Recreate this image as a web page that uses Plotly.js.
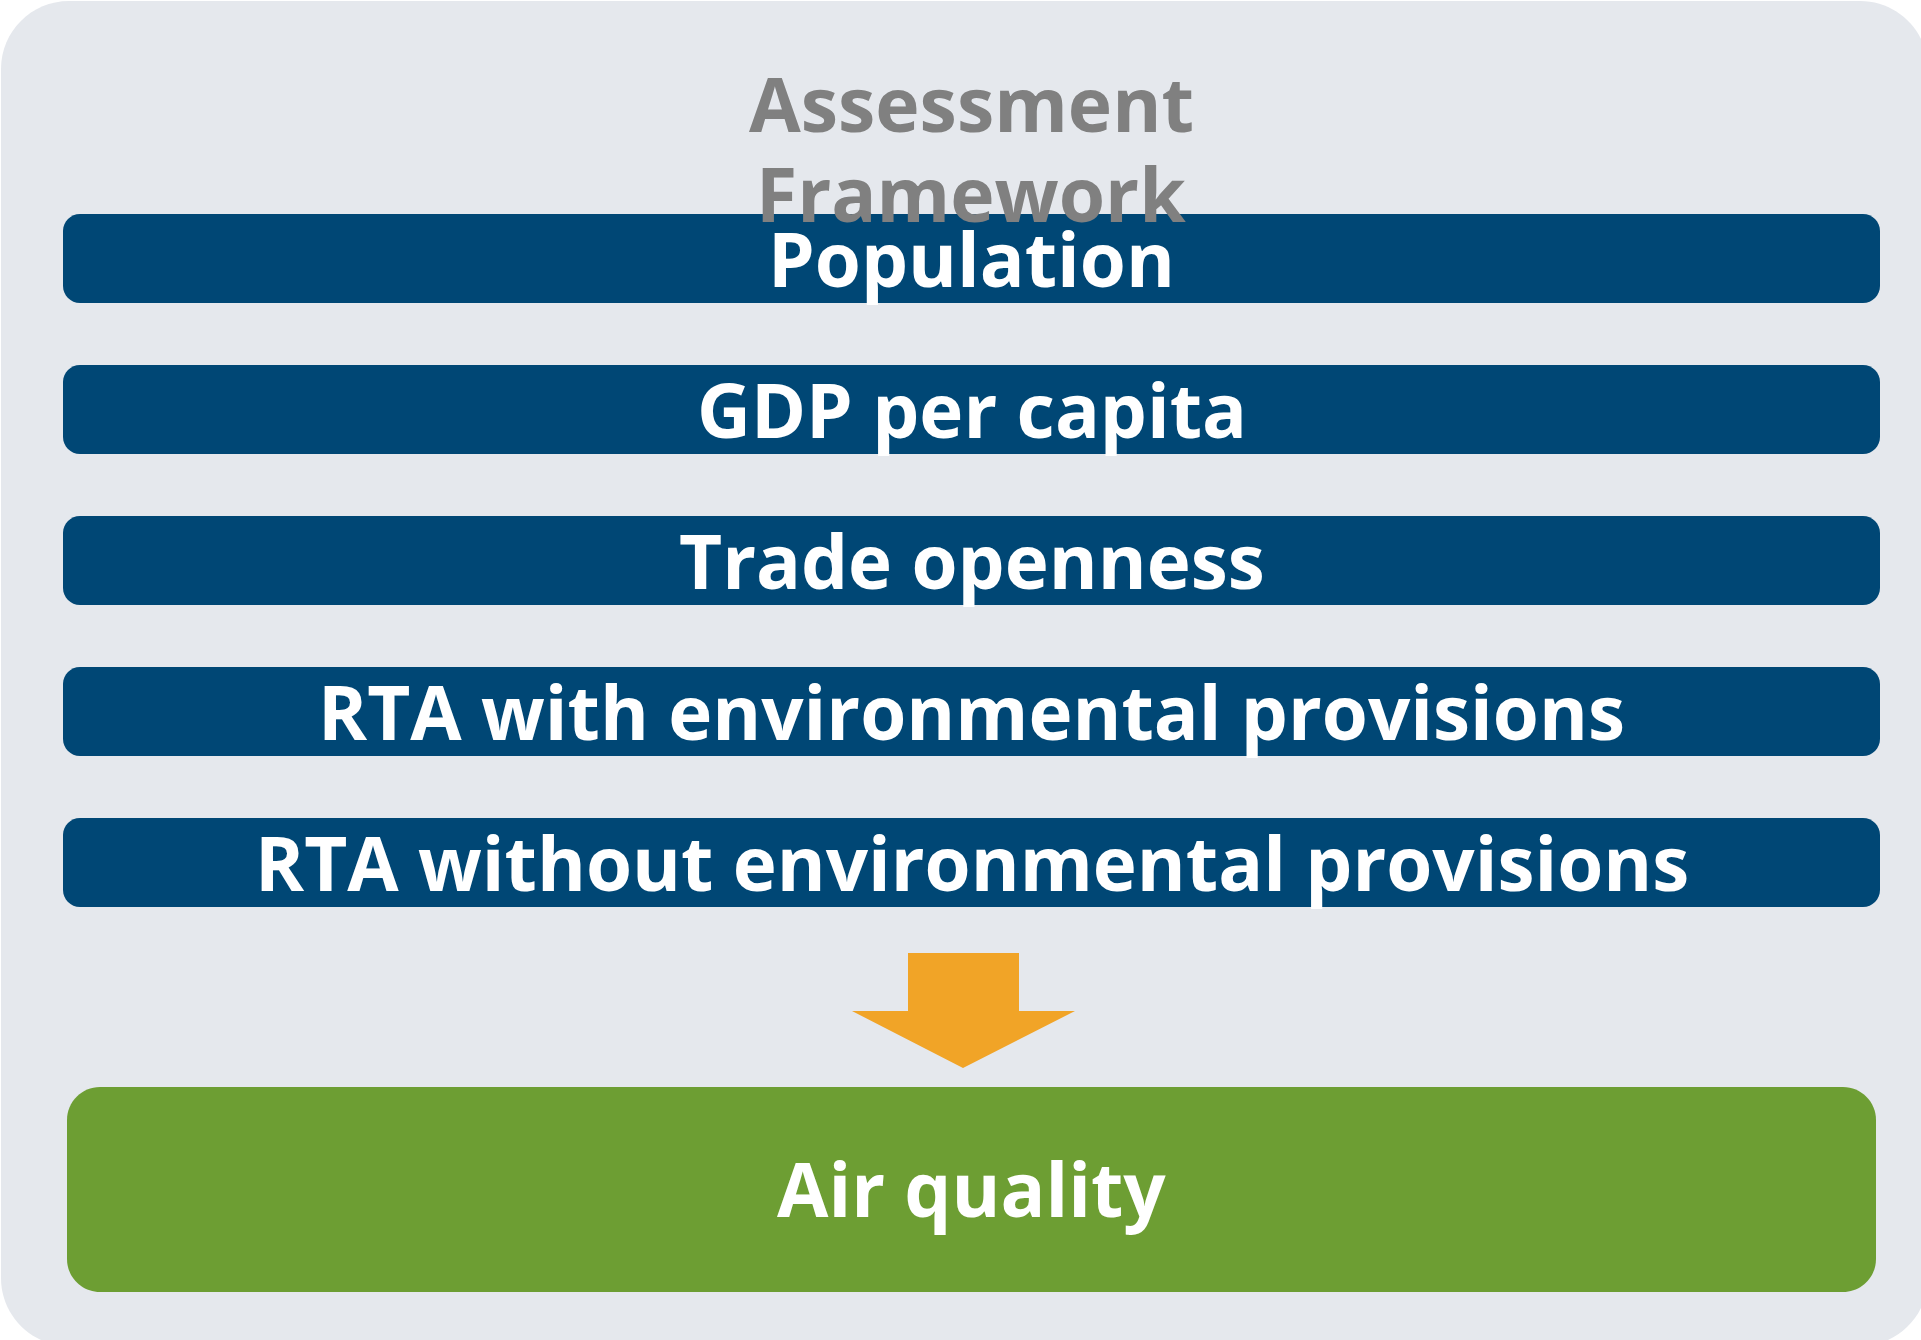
<!DOCTYPE html>
<html>
<head>
<meta charset="utf-8">
<script src="https://cdn.plot.ly/plotly-3.0.1.min.js"></script>
<style>html,body{margin:0;padding:0;background:#fff;}#chart{width:1921px;height:1340px;}</style>
</head>
<body>
<div id="chart"></div>
<script>
// ---- data ----
const titleLines = ['Assessment', 'Framework'];
const factors = [
  'Population',
  'GDP per capita',
  'Trade openness',
  'RTA with environmental provisions',
  'RTA without environmental provisions'
];
const outcome = 'Air quality';

// ---- layout constants (pixel-space axes) ----
const W = 1921, H = 1340;
const BG = {x0: 1, y0: 1, x1: 1928, y1: 1346, r: 68, color: '#E5E8ED'};
const BAR = {x0: 63, x1: 1880, top0: 214, step: 151, h: 89, r: 17, color: '#004775'};
const ARROW = {shaftL: 908, shaftR: 1019, shaftTop: 953, headY: 1011, headL: 852, headR: 1075, tipX: 963, tipY: 1068, color: '#F1A427'};
const GREEN = {x0: 67, x1: 1876, y0: 1087, y1: 1292, r: 33, color: '#6D9E33'};
const FONT = 'Open Sans, Noto Sans, sans-serif';
const TXT = 74.5;

function rr(x0, y0, x1, y1, r) {
  const k = 0.5523 * r;
  return `M ${x0 + r},${y0} L ${x1 - r},${y0} C ${x1 - r + k},${y0} ${x1},${y0 + r - k} ${x1},${y0 + r} ` +
         `L ${x1},${y1 - r} C ${x1},${y1 - r + k} ${x1 - r + k},${y1} ${x1 - r},${y1} ` +
         `L ${x0 + r},${y1} C ${x0 + r - k},${y1} ${x0},${y1 - r + k} ${x0},${y1 - r} ` +
         `L ${x0},${y0 + r} C ${x0},${y0 + r - k} ${x0 + r - k},${y0} ${x0 + r},${y0} Z`;
}

const shapes = [];
const annotations = [];

shapes.push({type: 'path', xref: 'x', yref: 'y', layer: 'below',
  path: rr(BG.x0, BG.y0, BG.x1, BG.y1, BG.r), fillcolor: BG.color, line: {width: 0}});

factors.forEach((label, i) => {
  const y0 = BAR.top0 + i * BAR.step, y1 = y0 + BAR.h;
  shapes.push({type: 'path', xref: 'x', yref: 'y', layer: 'below',
    path: rr(BAR.x0, y0, BAR.x1, y1, BAR.r), fillcolor: BAR.color, line: {width: 0}});
  annotations.push({xref: 'x', yref: 'y', x: (BAR.x0 + BAR.x1) / 2, y: (y0 + y1) / 2 - 1,
    text: label, showarrow: false, xanchor: 'center', yanchor: 'middle',
    font: {family: FONT, size: TXT, color: '#FFFFFF', weight: 700}});
});

// arrow
const A = ARROW;
shapes.push({type: 'path', xref: 'x', yref: 'y', layer: 'below',
  path: `M ${A.shaftL},${A.shaftTop} L ${A.shaftR},${A.shaftTop} L ${A.shaftR},${A.headY} L ${A.headR},${A.headY} L ${A.tipX},${A.tipY} L ${A.headL},${A.headY} L ${A.shaftL},${A.headY} Z`,
  fillcolor: A.color, line: {width: 0}});

// outcome box
shapes.push({type: 'path', xref: 'x', yref: 'y', layer: 'below',
  path: rr(GREEN.x0, GREEN.y0, GREEN.x1, GREEN.y1, GREEN.r), fillcolor: GREEN.color, line: {width: 0}});
annotations.push({xref: 'x', yref: 'y', x: (GREEN.x0 + GREEN.x1) / 2, y: (GREEN.y0 + GREEN.y1) / 2 - 2,
  text: outcome, showarrow: false, xanchor: 'center', yanchor: 'middle',
  font: {family: FONT, size: TXT, color: '#FFFFFF', weight: 700}});

// title (drawn above the bars, overlapping like the reference)
const titleCenters = [103, 193];
titleLines.forEach((t, i) => {
  annotations.push({xref: 'x', yref: 'y', x: 971, y: titleCenters[i],
    text: t, showarrow: false, xanchor: 'center', yanchor: 'middle',
    font: {family: FONT, size: 75, color: '#808080', weight: 700}});
});

const data = [{x: [0, W], y: [0, H], type: 'scatter', mode: 'markers',
  marker: {opacity: 0}, hoverinfo: 'skip', showlegend: false}];

const layout = {
  width: W, height: H,
  margin: {l: 0, r: 0, t: 0, b: 0, pad: 0},
  paper_bgcolor: '#FFFFFF', plot_bgcolor: 'rgba(0,0,0,0)',
  xaxis: {range: [0, W], visible: false, fixedrange: true},
  yaxis: {range: [H, 0], visible: false, fixedrange: true},
  showlegend: false,
  shapes: shapes,
  annotations: annotations
};

Plotly.newPlot('chart', data, layout, {displayModeBar: false, staticPlot: true});
</script>
</body>
</html>
